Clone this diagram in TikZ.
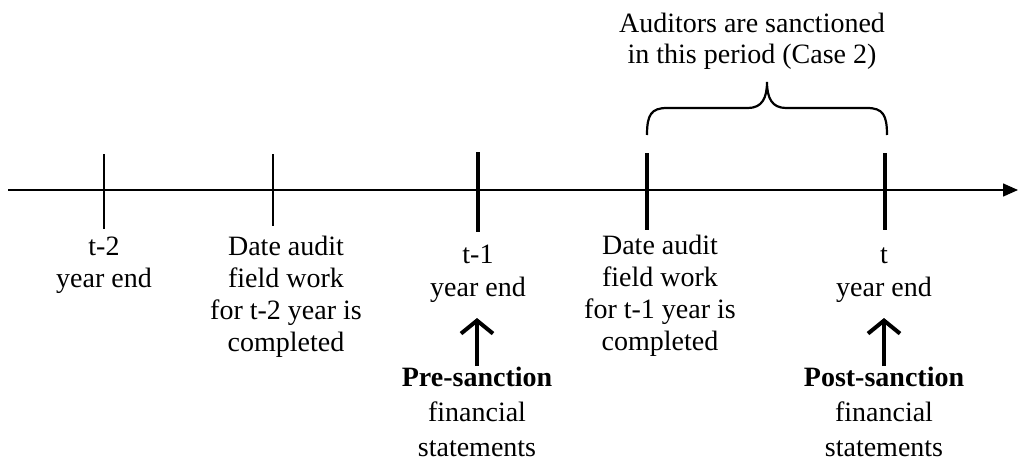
\documentclass[tikz,border=0pt]{standalone}
\usepackage{fontspec}
\setmainfont{Liberation Serif}
\usetikzlibrary{arrows.meta}
\begin{document}
\begin{tikzpicture}[x=1pt,y=-1pt,
  lbl/.style={align=center, inner sep=0pt, anchor=base, font=\fontsize{28}{32}\selectfont},
  lblb/.style={align=center, inner sep=0pt, anchor=base, font=\fontsize{28}{35}\selectfont},
  thintick/.style={line width=1.5pt},
  thicktick/.style={line width=4pt},
  axisline/.style={line width=1.5pt, -{Triangle[length=15pt,width=13pt]}},
  uparrow/.style={line width=4pt, -{Straight Barb[length=13pt,width=32pt]}},
  bracepath/.style={line width=2.2pt}]
\useasboundingbox (0,0) rectangle (1018,466);
% axis
\coordinate (s) at (8,190);
\coordinate (e) at (1018,190);
\draw[axisline] (s) -- (e);
% ticks
\coordinate (k1t) at (104,154); \coordinate (k1b) at (104,229);
\coordinate (k2t) at (273,154); \coordinate (k2b) at (273,226);
\coordinate (k3t) at (478,152); \coordinate (k3b) at (478,232);
\coordinate (k4t) at (647,153); \coordinate (k4b) at (647,230);
\coordinate (k5t) at (885,153); \coordinate (k5b) at (885,230);
\draw[thintick] (k1t) -- (k1b);
\draw[thintick] (k2t) -- (k2b);
\draw[thicktick] (k3t) -- (k3b);
\draw[thicktick] (k4t) -- (k4b);
\draw[thicktick] (k5t) -- (k5b);
% brace
\coordinate (bl) at (647,135);
\coordinate (bm) at (767,82);
\coordinate (br) at (887,135);
\draw[bracepath] (bl) .. controls (647,115) and (651,108) .. (667,108)
  -- (748,108) .. controls (762,108) and (767,98) .. (bm)
  .. controls (767,98) and (772,108) .. (786,108)
  -- (867,108) .. controls (883,108) and (887,115) .. (br);
\node[lbl] (top) at (752,63) {Auditors are sanctioned\\[-1pt]in this period (Case 2)};
% labels
\node[lbl] (l1) at (104,287) {t-2\\year end};
\node[lbl] (l2) at (286,351) {Date audit\\field work\\for t-2 year is\\completed};
\node[lbl] (l3) at (478,296) {t-1\\[1pt]year end};
\node[lbl] (l4) at (660,350) {Date audit\\field work\\for t-1 year is\\completed};
\node[lbl] (l5) at (884,296) {t\\[1pt]year end};
% arrows
\coordinate (a1b) at (477,366); \coordinate (a1t) at (477,318);
\coordinate (a2b) at (884,366); \coordinate (a2t) at (884,318);
\draw[uparrow] (a1b) -- (a1t);
\draw[uparrow] (a2b) -- (a2t);
\node[lblb] (p1) at (477,456) {\textbf{Pre-sanction}\\financial\\statements};
\node[lblb] (p2) at (884,456) {\textbf{Post-sanction}\\financial\\statements};
\end{tikzpicture}
\end{document}
